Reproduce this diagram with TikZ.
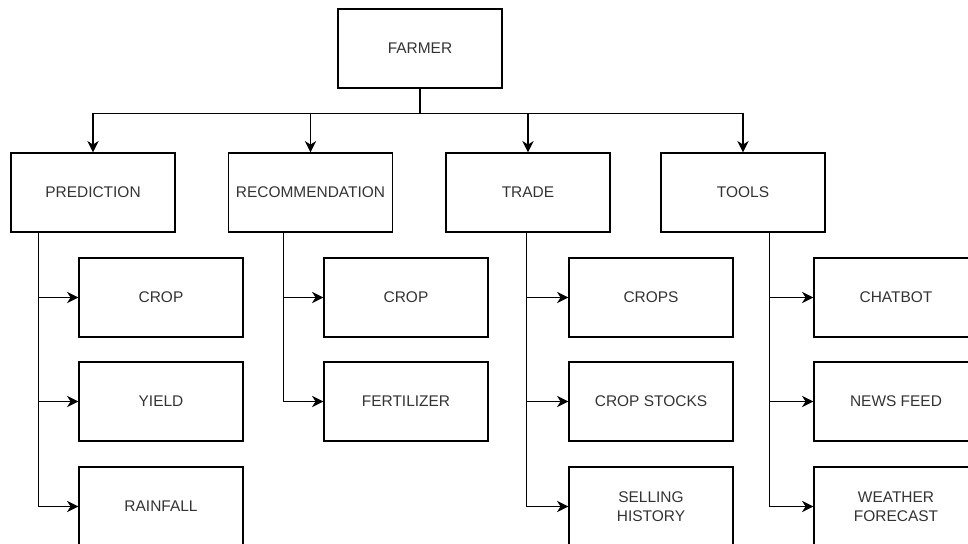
\documentclass[tikz,border=0pt]{standalone}
\usepackage{fontspec}
\setmainfont{Liberation Sans}
\usetikzlibrary{calc,positioning,arrows.meta}

\begin{document}
\begin{tikzpicture}[x=0.025cm, y=-0.025cm]
\tikzstyle{box}=[rectangle, draw, line width=1pt, minimum width=4.1cm,
                 minimum height=1.975cm, align=center, text=black!80,
                 font=\fontsize{11}{13.5}\selectfont]
\tikzstyle{ln}=[line width=0.8pt]
\tikzstyle{arr}=[ln, -{Stealth[length=8pt,width=8pt,inset=2.5pt]}]
\useasboundingbox (0,0) rectangle (968,544);
\node[box] (farmer) at (420,48.5) {FARMER};
\foreach \n/\x/\t in {pred/93/PREDICTION, rec/310.5/RECOMMENDATION, trade/528/TRADE, tools/743/TOOLS}{\node[box] (\n) at (\x,192.5) {\t};}
\foreach \n/\x/\y/\t in {pc/161/297.5/CROP, py/161/401.5/YIELD, pr/161/506.5/RAINFALL,
  rc/406/297.5/CROP, rf/406/401.5/FERTILIZER,
  tc/651/297.5/CROPS, ts/651/401.5/CROP STOCKS, th/651/506.5/{SELLING\\HISTORY},
  oc/896/297.5/CHATBOT, on/896/401.5/NEWS FEED, ow/896/506.5/{WEATHER\\FORECAST}}{\node[box] (\n) at (\x,\y) {\t};}
% farmer to the four branches
\coordinate (bus) at (420,113.5);
\draw[ln] (farmer) -- (bus);
\draw[ln] (pred |- bus) -- (tools |- bus);
\foreach \n in {pred,rec,trade,tools}{\draw[arr] (\n |- bus) -- (\n);}
% branch trunks
\foreach \p/\d/\l in {pred/28.5/pr, rec/55.5/rf, trade/81/th, tools/109.5/ow}{
  \coordinate (\p-trunk) at ($(\p.south west)+(\d,0)$);
  \draw[ln] (\p-trunk) -- (\p-trunk |- \l);}
\foreach \p/\c in {pred/pc, pred/py, pred/pr, rec/rc, rec/rf, trade/tc, trade/ts, trade/th, tools/oc, tools/on, tools/ow}{\draw[arr] (\p-trunk |- \c) -- (\c);}
\end{tikzpicture}
\end{document}
